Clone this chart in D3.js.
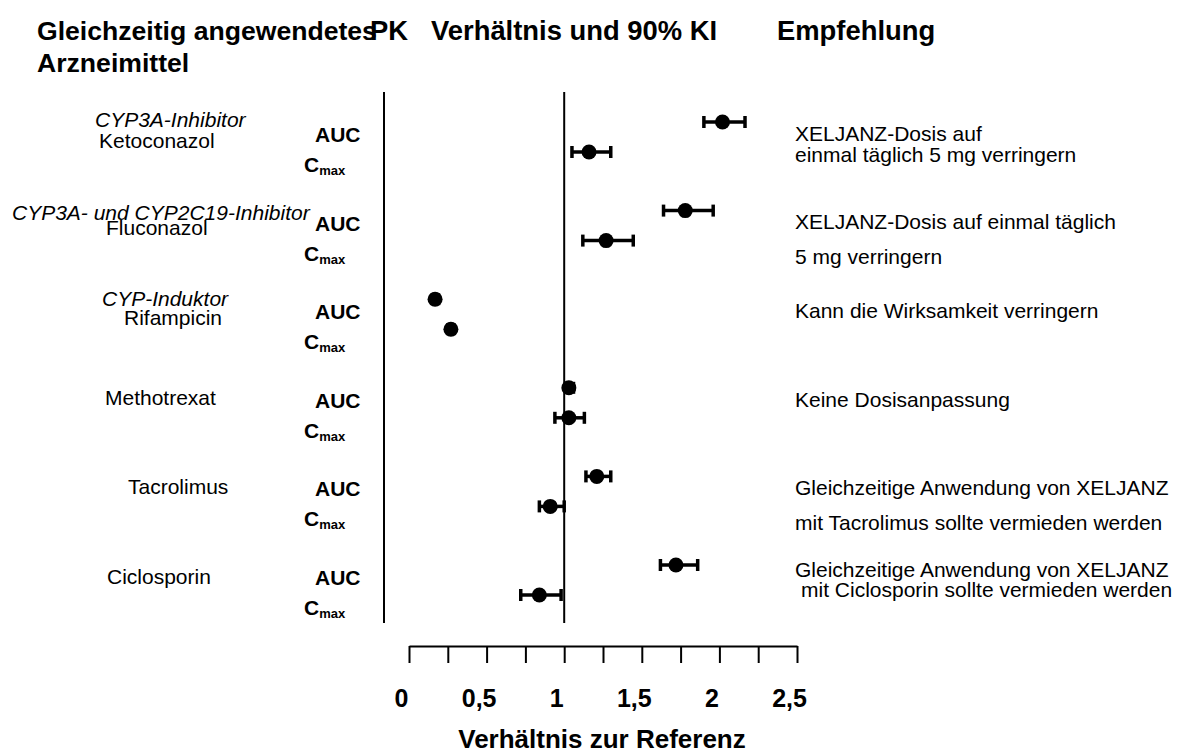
<!DOCTYPE html>
<head>
    <meta charset="utf-8">
    <script src="https://d3js.org/d3.v7.min.js"></script>
    <style>
        body { margin:0; background:#fff; }
        text { font-family: 'Liberation Sans', Arial, sans-serif; fill: #000; }
        .header { font-size: 27.4px; font-weight: bold; }
        .header .first { font-size: 26.6px; }
        .drug, .rec, .cls { font-size: 21px; }
        .cls { font-style: italic; }
        .pk { font-size: 21px; font-weight: bold; }
        .pk .sub { font-size: 13px; }
        .rule { stroke: #000; stroke-width: 2; }
        .ci { stroke: #000; stroke-width: 3.5; fill: none; }
        .dot { fill: #000; }
        .axis .domain, .axis line { stroke: #000; stroke-width: 2; }
        .axis text { font-size: 25px; font-weight: bold; }
        .axis-title { font-size: 26px; font-weight: bold; }
    </style>
</head>

<body>
  <script>
    // ---- data ----
    const drugs = ['Ketoconazol', 'Fluconazol', 'Rifampicin', 'Methotrexat', 'Tacrolimus', 'Ciclosporin'];
    const drugClasses = ['CYP3A-Inhibitor', 'CYP3A- und CYP2C19-Inhibitor', 'CYP-Induktor', '', '', ''];

    const aucRatio = [2.02, 1.78, 0.168, 1.03, 1.21, 1.72];
    const aucLow   = [1.90, 1.64, 0.15, 1.01, 1.14, 1.62];
    const aucHigh  = [2.165, 1.96, 0.19, 1.06, 1.30, 1.86];

    const cmaxRatio = [1.16, 1.27, 0.27, 1.03, 0.91, 0.84];
    const cmaxLow   = [1.05, 1.12, 0.25, 0.94, 0.84, 0.72];
    const cmaxHigh  = [1.30, 1.445, 0.29, 1.13, 1.00, 0.98];

    const recommendations = [
        ['XELJANZ-Dosis auf', 'einmal täglich 5 mg verringern'],
        ['XELJANZ-Dosis auf einmal täglich', '5 mg verringern'],
        ['Kann die Wirksamkeit verringern'],
        ['Keine Dosisanpassung'],
        ['Gleichzeitige Anwendung von XELJANZ', 'mit Tacrolimus sollte vermieden werden'],
        ['Gleichzeitige Anwendung von XELJANZ', 'mit Ciclosporin sollte vermieden werden']
    ];

    const xTicks = [0, 0.25, 0.5, 0.75, 1, 1.25, 1.5, 1.75, 2, 2.25, 2.5];
    const xTickLabels = {0: '0', 0.5: '0,5', 1: '1', 1.5: '1,5', 2: '2', 2.5: '2,5'};

    // ---- layout (text placement, tuned by eye) ----
    const nameX = [99, 106, 124, 105, 128, 107];
    const nameDy = [26, 24, 26, 17, 18, 19];
    const clsX = [95, 12, 102];
    const clsDy = [5, 9, 7];
    const recDy = [[19, 40], [18, 53], [19], [19], [19, 54], [11.5, 31.5]];
    const recDx = [[0, 0], [0, 0], [0], [0], [0, 0], [0, 6]];

    const width = 1184;
    const height = 754;

    const xScale = d3.scaleLinear().domain([0, 2.5]).range([409, 797]);
    const yScale = d3.scalePoint().domain(drugs).range([122, 565]);
    const cmaxOffset = 30;

    const svg = d3.select('body').append('svg')
        .attr('width', width)
        .attr('height', height);

    // column headers
    const headers = svg.append('g').attr('class', 'header');
    headers.append('text').attr('class', 'first').attr('x', 37).attr('y', 40).text('Gleichzeitig angewendetes');
    headers.append('text').attr('class', 'first').attr('x', 37).attr('y', 72).text('Arzneimittel');
    headers.append('text').attr('x', 370).attr('y', 40).text('PK');
    headers.append('text').attr('x', 431).attr('y', 40).text('Verhältnis und 90% KI');
    headers.append('text').attr('x', 777).attr('y', 40).text('Empfehlung');

    // vertical rules
    svg.append('line').attr('class', 'rule')
        .attr('x1', 384).attr('x2', 384).attr('y1', 92).attr('y2', 623);
    svg.append('line').attr('class', 'rule')
        .attr('x1', xScale(1)).attr('x2', xScale(1)).attr('y1', 92).attr('y2', 623);

    // left labels
    const rows = svg.append('g').selectAll('g')
        .data(drugs)
        .enter().append('g');

    rows.append('text')
        .attr('class', 'cls')
        .attr('x', (d, i) => clsX[i] || 0)
        .attr('y', (d, i) => yScale(d) + (clsDy[i] || 0))
        .text((d, i) => drugClasses[i]);

    rows.append('text')
        .attr('class', 'drug')
        .attr('x', (d, i) => nameX[i])
        .attr('y', (d, i) => yScale(d) + nameDy[i])
        .text(d => d);

    rows.append('text')
        .attr('class', 'pk')
        .attr('x', 315)
        .attr('y', d => yScale(d) + 20)
        .text('AUC');

    const cmaxLabel = rows.append('text')
        .attr('class', 'pk')
        .attr('x', 304)
        .attr('y', d => yScale(d) + 50);
    cmaxLabel.append('tspan').text('C');
    cmaxLabel.append('tspan').attr('class', 'sub').attr('dy', 3).text('max');

    // recommendations
    rows.each(function(d, i) {
        d3.select(this).selectAll('.rec')
            .data(recommendations[i])
            .enter().append('text')
            .attr('class', 'rec')
            .attr('x', (t, j) => 795 + recDx[i][j])
            .attr('y', (t, j) => yScale(d) + recDy[i][j])
            .text(t => t);
    });

    // point estimates with CI
    const points = [];
    drugs.forEach((d, i) => {
        points.push({drug: d, off: 0, r: aucRatio[i], lo: aucLow[i], hi: aucHigh[i]});
        points.push({drug: d, off: cmaxOffset, r: cmaxRatio[i], lo: cmaxLow[i], hi: cmaxHigh[i]});
    });

    const marks = svg.append('g').selectAll('g')
        .data(points)
        .enter().append('g')
        .attr('transform', d => `translate(0,${yScale(d.drug) + d.off})`);

    marks.append('line').attr('class', 'ci')
        .attr('x1', d => xScale(d.lo)).attr('x2', d => xScale(d.hi))
        .attr('y1', 0).attr('y2', 0);
    marks.append('line').attr('class', 'ci')
        .attr('x1', d => xScale(d.lo)).attr('x2', d => xScale(d.lo))
        .attr('y1', -6).attr('y2', 6);
    marks.append('line').attr('class', 'ci')
        .attr('x1', d => xScale(d.hi)).attr('x2', d => xScale(d.hi))
        .attr('y1', -6).attr('y2', 6);
    marks.append('circle').attr('class', 'dot')
        .attr('cx', d => xScale(d.r))
        .attr('cy', 0)
        .attr('r', 7.5);

    // x axis
    const xAxis = svg.append('g')
        .attr('class', 'axis')
        .attr('transform', 'translate(0,646)')
        .call(d3.axisBottom(xScale)
            .tickValues(xTicks)
            .tickSize(17)
            .tickSizeOuter(0)
            .tickPadding(0)
            .tickFormat(d => xTickLabels[d] || ''));

    xAxis.selectAll('.tick text')
        .attr('dy', null)
        .attr('y', 61)
        .attr('dx', -8);

    svg.append('text')
        .attr('class', 'axis-title')
        .attr('x', 602)
        .attr('y', 748)
        .attr('text-anchor', 'middle')
        .text('Verhältnis zur Referenz');
  </script>
</body>
